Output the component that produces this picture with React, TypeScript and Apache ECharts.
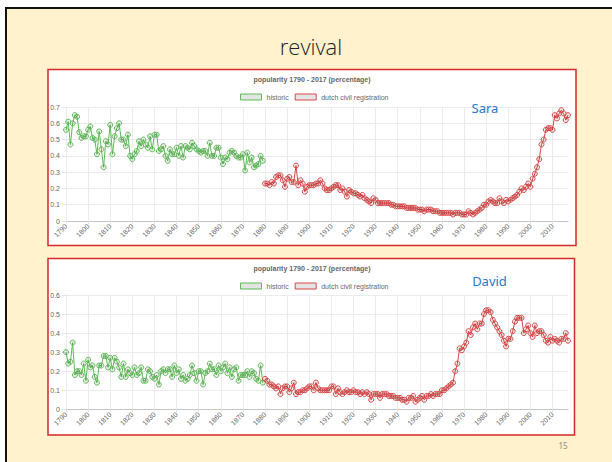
import React, { useEffect, useRef } from "react";
import * as echarts from "echarts";

const FIRST_YEAR = 1790;
const LAST_YEAR = 2017;
const HISTORIC_START = 1790;
const CIVIL_START = 1880;

const years: string[] = [];
for (let y = FIRST_YEAR; y <= LAST_YEAR; y++) years.push(String(y));

const chartTitle = "popularity 1790 - 2017 (percentage)";
const slideTitle = "revival";
const pageNumber = "15";
const seriesNames = ["historic", "dutch civil registration"];

// Sara, historic 1790-1879
const saraHistoric = [
  0.56, 0.61, 0.47, 0.6, 0.65, 0.64, 0.545, 0.51, 0.52, 0.52,
  0.56, 0.58, 0.51, 0.5, 0.41, 0.55, 0.44, 0.33, 0.49, 0.47,
  0.59, 0.41, 0.52, 0.57, 0.6, 0.5, 0.5, 0.46, 0.53, 0.4,
  0.38, 0.41, 0.43, 0.49, 0.46, 0.5, 0.47, 0.45, 0.52, 0.44,
  0.53, 0.53, 0.43, 0.44, 0.46, 0.4, 0.37, 0.44, 0.41, 0.41,
  0.45, 0.4, 0.46, 0.39, 0.46, 0.45, 0.44, 0.48, 0.46, 0.44,
  0.43, 0.42, 0.43, 0.43, 0.4, 0.48, 0.4, 0.4, 0.45, 0.45,
  0.39, 0.35, 0.39, 0.38, 0.42, 0.43, 0.42, 0.4, 0.39, 0.39,
  0.41, 0.31, 0.42, 0.36, 0.39, 0.33, 0.34, 0.35, 0.4, 0.37,
];
// Sara, dutch civil registration 1880-2017
const saraCivil = [
  0.23, 0.23, 0.22, 0.24, 0.23, 0.27, 0.28, 0.28, 0.25, 0.21,
  0.26, 0.27, 0.24, 0.24, 0.34, 0.22, 0.25, 0.23, 0.18, 0.21,
  0.22, 0.22, 0.22, 0.23, 0.23, 0.25, 0.23, 0.2, 0.19, 0.19,
  0.2, 0.21, 0.22, 0.22, 0.19, 0.2, 0.18, 0.15, 0.19, 0.18,
  0.17, 0.17, 0.16, 0.15, 0.16, 0.14, 0.13, 0.12, 0.11, 0.14,
  0.13, 0.11, 0.11, 0.11, 0.11, 0.11, 0.11, 0.1, 0.1, 0.09,
  0.09, 0.09, 0.09, 0.09, 0.08, 0.08, 0.08, 0.08, 0.08, 0.07,
  0.07, 0.07, 0.06, 0.07, 0.07, 0.07, 0.06, 0.06, 0.06, 0.05,
  0.05, 0.05, 0.05, 0.05, 0.05, 0.04, 0.05, 0.05, 0.05, 0.04,
  0.04, 0.04, 0.06, 0.05, 0.04, 0.05, 0.06, 0.07, 0.08, 0.1,
  0.1, 0.12, 0.13, 0.12, 0.11, 0.11, 0.14, 0.12, 0.11, 0.13,
  0.12, 0.13, 0.14, 0.15, 0.16, 0.18, 0.2, 0.19, 0.21, 0.23,
  0.21, 0.26, 0.29, 0.33, 0.38, 0.47, 0.5, 0.56, 0.57, 0.57,
  0.56, 0.65, 0.63, 0.66, 0.68, 0.66, 0.62, 0.65,
];
// David, historic 1790-1879
const davidHistoric = [
  0.3, 0.24, 0.25, 0.35, 0.18, 0.2, 0.2, 0.18, 0.24, 0.15,
  0.26, 0.22, 0.23, 0.17, 0.14, 0.23, 0.23, 0.28, 0.28, 0.22,
  0.27, 0.21, 0.27, 0.25, 0.22, 0.17, 0.24, 0.17, 0.21, 0.19,
  0.18, 0.22, 0.18, 0.19, 0.22, 0.15, 0.15, 0.21, 0.2, 0.17,
  0.16, 0.18, 0.13, 0.2, 0.21, 0.19, 0.21, 0.21, 0.17, 0.23,
  0.19, 0.21, 0.16, 0.18, 0.15, 0.16, 0.18, 0.23, 0.19, 0.15,
  0.2, 0.2, 0.13, 0.19, 0.2, 0.24, 0.21, 0.21, 0.18, 0.23,
  0.2, 0.22, 0.24, 0.19, 0.22, 0.17, 0.21, 0.22, 0.15, 0.18,
  0.18, 0.18, 0.2, 0.17, 0.2, 0.19, 0.16, 0.15, 0.23, 0.14,
];
// David, dutch civil registration 1880-2017
const davidCivil = [
  0.16, 0.15, 0.13, 0.13, 0.12, 0.11, 0.12, 0.08, 0.11, 0.12,
  0.12, 0.09, 0.11, 0.14, 0.08, 0.09, 0.09, 0.1, 0.1, 0.11,
  0.12, 0.12, 0.1, 0.14, 0.11, 0.1, 0.1, 0.1, 0.1, 0.1,
  0.12, 0.12, 0.08, 0.11, 0.09, 0.08, 0.09, 0.1, 0.09, 0.09,
  0.1, 0.09, 0.09, 0.08, 0.09, 0.08, 0.09, 0.08, 0.05, 0.08,
  0.08, 0.08, 0.06, 0.08, 0.08, 0.08, 0.07, 0.07, 0.07, 0.06,
  0.06, 0.06, 0.05, 0.05, 0.04, 0.06, 0.06, 0.07, 0.04, 0.05,
  0.06, 0.07, 0.05, 0.07, 0.07, 0.08, 0.07, 0.08, 0.08, 0.08,
  0.1, 0.1, 0.11, 0.12, 0.13, 0.14, 0.2, 0.24, 0.32, 0.31,
  0.33, 0.35, 0.41, 0.39, 0.43, 0.45, 0.42, 0.45, 0.45, 0.5,
  0.52, 0.52, 0.51, 0.47, 0.45, 0.43, 0.41, 0.39, 0.36, 0.33,
  0.37, 0.37, 0.41, 0.46, 0.48, 0.48, 0.48, 0.4, 0.42, 0.44,
  0.4, 0.38, 0.44, 0.4, 0.41, 0.41, 0.39, 0.36, 0.35, 0.38,
  0.36, 0.37, 0.36, 0.35, 0.37, 0.37, 0.4, 0.36,
];

const GREEN = "#5dbb55";
const RED = "#dc4646";
const POINT_FILL = "rgba(0,0,0,0.08)";
const LEGEND_FILL = "#e4e4e4";
const FONT = '"Liberation Sans", Arial, sans-serif';

const toPairs = (start: number, vals: number[]) =>
  vals.map((v, i) => [String(start + i), v]);

const isDecade = (index: number) => (FIRST_YEAR + index) % 10 === 0;

function axesFor(gridIndex: number, max: number) {
  return {
    x: {
      type: "category",
      gridIndex,
      data: years,
      boundaryGap: false,
      axisLine: { show: true, lineStyle: { color: "#c4c4c4", width: 1.2 } },
      axisTick: { show: true, interval: isDecade, length: 3, lineStyle: { color: "#e2e2e2" } },
      axisLabel: {
        interval: isDecade,
        rotate: 45,
        fontSize: 7,
        color: "#666",
        fontFamily: FONT,
        margin: 4,
        hideOverlap: false,
      },
      splitLine: { show: true, interval: isDecade, lineStyle: { color: "#ebebeb", width: 1 } },
    },
    y: {
      type: "value",
      gridIndex,
      min: 0,
      max,
      interval: 0.1,
      axisLine: { show: false },
      axisTick: { show: true, length: 4, lineStyle: { color: "#e2e2e2" } },
      axisLabel: { fontSize: 7, color: "#666", fontFamily: FONT, margin: 6 },
      splitLine: { show: true, lineStyle: { color: "#ebebeb", width: 1 } },
    },
  };
}

function lineSeries(name: string, color: string, data: any[], idx: number) {
  return {
    type: "line",
    name,
    xAxisIndex: idx,
    yAxisIndex: idx,
    data,
    symbol: "circle",
    symbolSize: 5,
    showSymbol: true,
    showAllSymbol: true,
    lineStyle: { color, width: 1 },
    itemStyle: { color: POINT_FILL, borderColor: color, borderWidth: 1 },
    emphasis: { disabled: true },
    silent: true,
    z: 3,
  };
}

function legendFor(top: number) {
  return {
    top,
    left: 240,
    orient: "horizontal",
    padding: 0,
    itemWidth: 21,
    itemHeight: 6,
    itemGap: 6,
    icon: "rect",
    selectedMode: false,
    textStyle: { fontSize: 7, color: "#666", fontFamily: FONT },
    data: [
      { name: seriesNames[0], itemStyle: { color: LEGEND_FILL, borderColor: GREEN, borderWidth: 1 } },
      { name: seriesNames[1], itemStyle: { color: LEGEND_FILL, borderColor: RED, borderWidth: 1 } },
    ],
  };
}

function text(x: number, y: number, t: string, font: string, fill: string, align = "center") {
  return {
    type: "text",
    x,
    y,
    z: 50,
    silent: true,
    style: { text: t, font, fill, textAlign: align, textVerticalAlign: "middle", align, verticalAlign: "middle" },
  };
}

export default function App() {
  const ref = useRef<HTMLDivElement>(null);
  useEffect(() => {
    const chart = echarts.init(ref.current!, undefined, { renderer: "svg" });
    const a1 = axesFor(0, 0.7);
    const a2 = axesFor(1, 0.6);
    chart.setOption({
      animation: false,
      backgroundColor: "#ffffff",
      grid: [
        { left: 66, top: 107, width: 502, height: 114, containLabel: false },
        { left: 66, top: 295, width: 502, height: 114.3, containLabel: false },
      ],
      xAxis: [a1.x, a2.x],
      yAxis: [a1.y, a2.y],
      legend: [legendFor(93.5), legendFor(282.5)],
      series: [
        lineSeries(seriesNames[0], GREEN, toPairs(HISTORIC_START, saraHistoric), 0),
        lineSeries(seriesNames[1], RED, toPairs(CIVIL_START, saraCivil), 0),
        lineSeries(seriesNames[0], GREEN, toPairs(HISTORIC_START, davidHistoric), 1),
        lineSeries(seriesNames[1], RED, toPairs(CIVIL_START, davidCivil), 1),
      ],
      graphic: [
        {
          type: "rect",
          z: -10,
          silent: true,
          shape: { x: 6, y: 8, width: 640, height: 480 },
          style: { fill: "#fff2cc", stroke: "#111111", lineWidth: 2 },
        },
        {
          type: "rect",
          z: -5,
          silent: true,
          shape: { x: 48, y: 69.5, width: 528, height: 176 },
          style: { fill: "#ffffff", stroke: "#d42a2a", lineWidth: 1.5 },
        },
        {
          type: "rect",
          z: -5,
          silent: true,
          shape: { x: 48, y: 258.5, width: 526.5, height: 176.5 },
          style: { fill: "#ffffff", stroke: "#d42a2a", lineWidth: 1.5 },
        },
        text(311, 46, slideTitle, '300 22px "Open Sans", "Noto Sans", sans-serif', "#222222"),
        text(312, 79.5, chartTitle, "bold 7px " + FONT, "#666666"),
        text(312, 268, chartTitle, "bold 7px " + FONT, "#666666"),
        text(485, 108, "Sara", '13px "Noto Sans", "Open Sans", sans-serif', "#1f78c8"),
        text(489.5, 280.5, "David", '13px "Noto Sans", "Open Sans", sans-serif', "#1f78c8"),
        text(563, 445, pageNumber, '8px "Noto Sans", sans-serif', "#8c8c8c"),
      ],
    });
    return () => chart.dispose();
  }, []);
  return (
    <div
      ref={ref}
      style={{ position: "absolute", left: 0, top: 0, width: 612, height: 462 }}
    />
  );
}
